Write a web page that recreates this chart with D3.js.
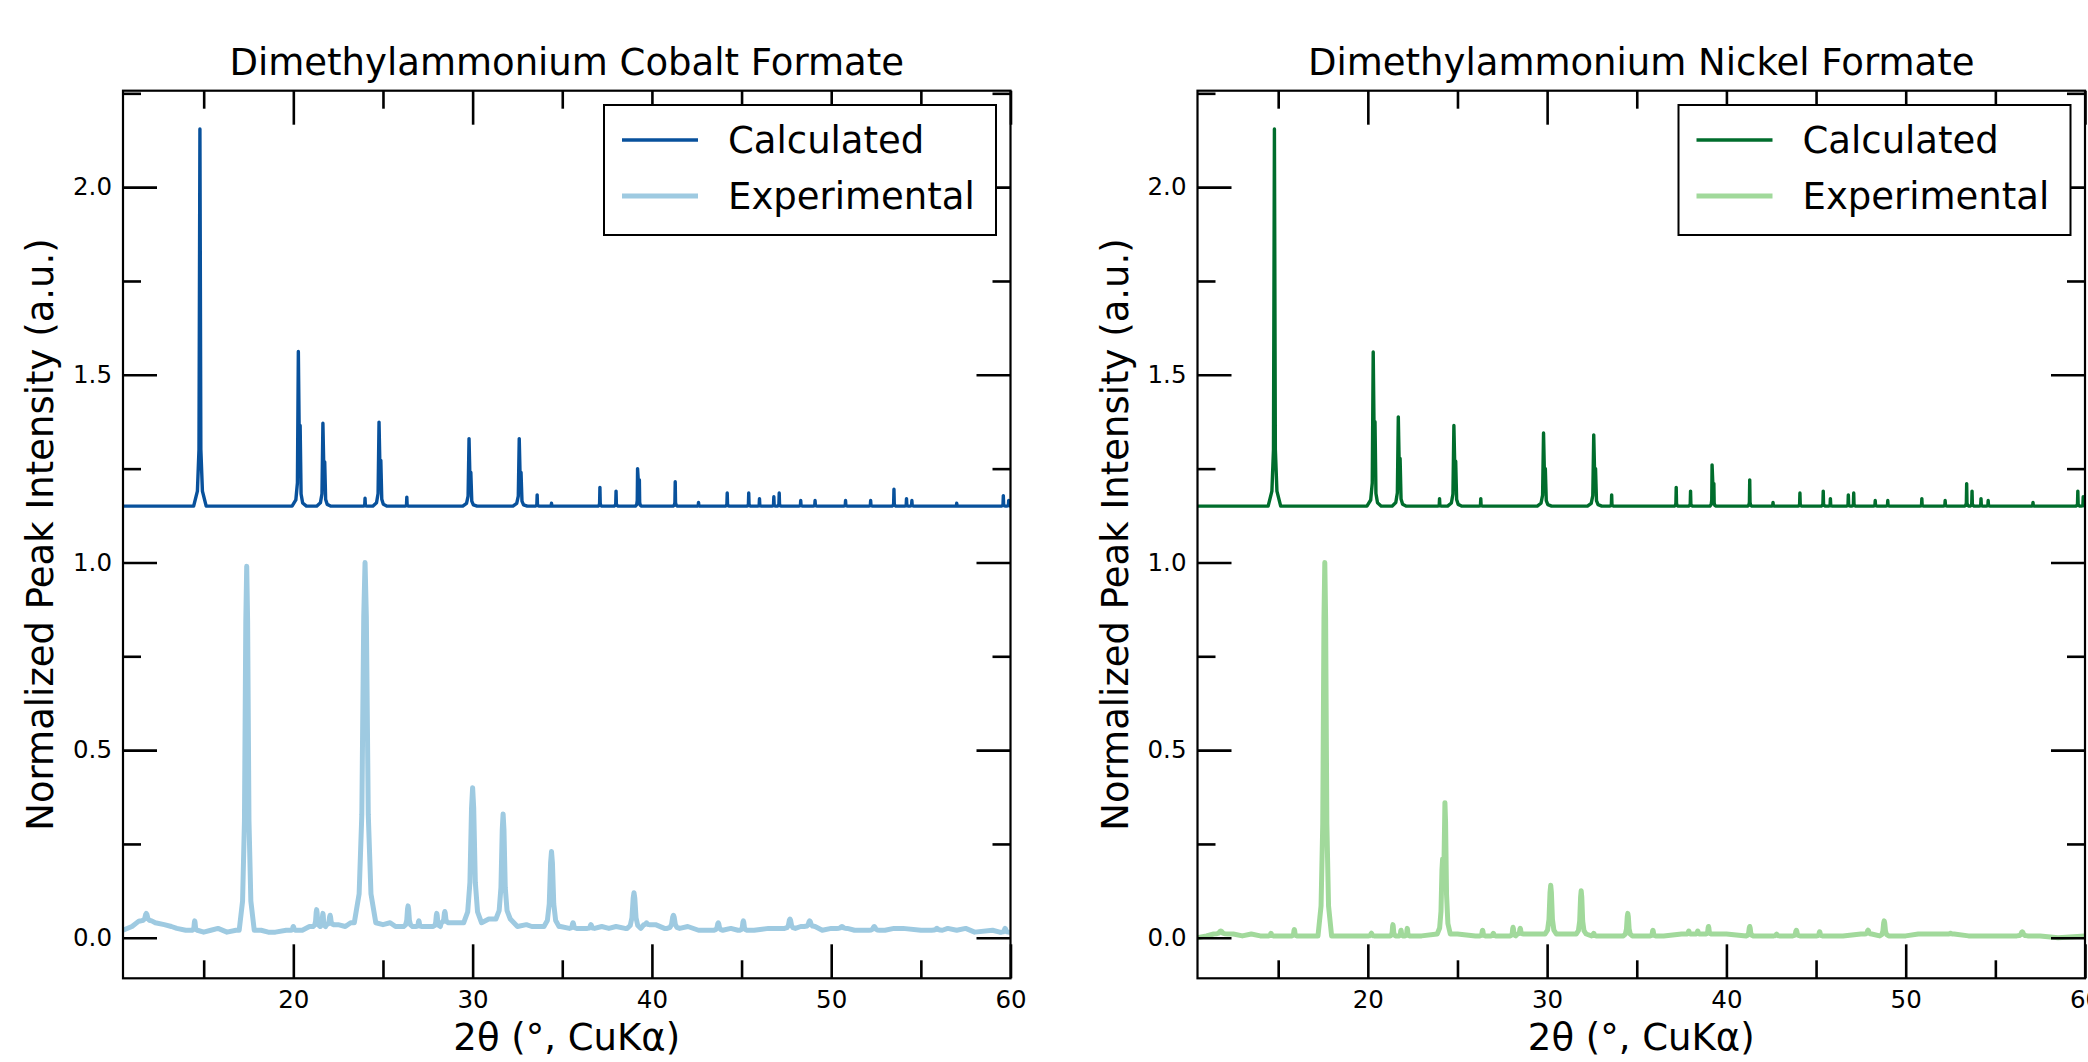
<!DOCTYPE html>
<html>
<head>
<meta charset="utf-8">
<script src="https://cdn.jsdelivr.net/npm/d3@7"></script>
<style>
    body { margin: 0; background: #ffffff; }
    text { font-family: "DejaVu Sans", sans-serif; fill: #000000; }
    .spine { fill: none; stroke: #000000; stroke-width: 2.2; }
    .axis path.domain { display: none; }
    .axis .tick line { stroke: #000000; stroke-width: 2.6; }
    .axis .tick text { font-size: 24.5px; }
    .trace { fill: none; stroke-linejoin: round; stroke-linecap: round; }
</style>
</head>
<body>
<svg id="chart" width="2088" height="1062"></svg>
<script>
// axis ranges and ticks
var thetaRange = [10.5, 60];
var intensityRange = [-0.108, 2.257];
var thetaMajor = [20, 30, 40, 50, 60];
var thetaMinor = [15, 25, 35, 45, 55];
var intensityMajor = [0, 0.5, 1.0, 1.5, 2.0];
var intensityMinor = [0.25, 0.75, 1.25, 1.75, 2.25];

var titles = ["Dimethylammonium Cobalt Formate", "Dimethylammonium Nickel Formate"];
var legendLabels = ["Calculated", "Experimental"];
var xLabel = "2θ (°, CuKα)";
var yLabel = "Normalized Peak Intensity (a.u.)";

// calculated patterns: [2θ, intensity] or [2θ, intensity, shoulder intensity]
var calcBase = [[10.5, 1.15], [60, 1.15]];

var coCalcPeaks = [
    [14.79, 2.155], [20.28, 1.562, 1.365], [21.65, 1.371, 1.268], [24.0, 1.171],
    [24.78, 1.374, 1.272], [26.33, 1.174], [29.8, 1.33, 1.24], [32.6, 1.33, 1.24],
    [33.6, 1.18], [34.4, 1.158], [37.1, 1.20], [38.0, 1.19], [39.2, 1.25, 1.22],
    [41.3, 1.215], [42.6, 1.16], [44.2, 1.185], [45.4, 1.185], [46.0, 1.17],
    [46.8, 1.175], [47.1, 1.185], [48.3, 1.165], [49.1, 1.165], [50.8, 1.165],
    [52.2, 1.165], [53.5, 1.195], [54.2, 1.17], [54.5, 1.165], [57.0, 1.158],
    [59.6, 1.178], [59.9, 1.165]
];

var niCalcPeaks = [
    [14.79, 2.155], [20.3, 1.561, 1.375], [21.7, 1.388, 1.277], [24.0, 1.17],
    [24.8, 1.365, 1.27], [26.3, 1.17], [29.8, 1.345, 1.25], [32.6, 1.34, 1.25],
    [33.6, 1.18], [37.2, 1.20], [38.0, 1.19], [39.2, 1.26, 1.21], [41.3, 1.22],
    [42.6, 1.16], [44.1, 1.185], [45.4, 1.19], [45.8, 1.17], [46.8, 1.18],
    [47.1, 1.185], [48.3, 1.165], [49.0, 1.165], [50.9, 1.17], [52.2, 1.165],
    [53.4, 1.21], [53.7, 1.19], [54.2, 1.17], [54.6, 1.165], [57.1, 1.16],
    [59.6, 1.19], [59.9, 1.175]
];

// experimental patterns: background points [2θ, intensity]
var coExpBase = [
    [10.5, 0.02], [11.0, 0.03], [11.4, 0.045], [12.3, 0.04], [12.8, 0.035], [13.2, 0.03],
    [13.5, 0.025], [14.0, 0.02], [15.0, 0.015], [15.4, 0.02], [15.8, 0.025], [16.3, 0.015],
    [16.8, 0.02], [18.2, 0.02], [18.6, 0.015], [19.0, 0.015], [19.6, 0.02], [20.5, 0.02],
    [20.9, 0.03], [22.5, 0.035], [22.9, 0.03], [23.2, 0.04], [25.0, 0.035], [25.4, 0.04],
    [25.7, 0.03], [27.5, 0.03], [29.2, 0.04], [30.9, 0.05], [32.5, 0.03], [33.0, 0.035],
    [33.3, 0.03], [34.9, 0.03], [36.0, 0.025], [37.2, 0.03], [37.6, 0.025], [38.0, 0.03],
    [38.5, 0.025], [40.2, 0.035], [40.7, 0.025], [42.0, 0.03], [42.6, 0.02], [43.2, 0.02],
    [44.4, 0.025], [44.8, 0.02], [45.7, 0.02], [46.5, 0.025], [47.2, 0.025], [48.3, 0.03],
    [49.5, 0.02], [50.0, 0.025], [51.3, 0.02], [52.0, 0.02], [53.0, 0.02], [53.5, 0.025],
    [54.0, 0.025], [55.0, 0.02], [55.5, 0.02], [56.5, 0.025], [57.0, 0.02], [57.5, 0.025],
    [58.0, 0.015], [59.0, 0.02], [59.4, 0.015], [60.0, 0.015]
];

// peaks: [2θ, intensity, half width] or with [shoulder intensity, shoulder offset]
var coExpPeaks = [
    [11.8, 0.065, 0.3], [14.5, 0.045, 0.15], [17.4, 0.99, 0.42], [20.0, 0.03, 0.15],
    [21.3, 0.075, 0.2], [21.65, 0.065, 0.15], [22.05, 0.06, 0.2], [24.0, 1.0, 0.6],
    [26.4, 0.085, 0.25], [27.0, 0.045, 0.15], [28.0, 0.065, 0.2], [28.45, 0.07, 0.2],
    [30.0, 0.40, 0.5], [31.7, 0.33, 0.4], [34.4, 0.23, 0.42], [35.6, 0.04, 0.2],
    [36.6, 0.035, 0.2], [39.0, 0.12, 0.38], [39.7, 0.04, 0.15], [41.2, 0.06, 0.35],
    [43.7, 0.04, 0.25], [45.1, 0.045, 0.2], [47.7, 0.05, 0.3], [48.8, 0.045, 0.3],
    [50.6, 0.03, 0.3], [52.4, 0.03, 0.3], [55.9, 0.025, 0.3], [59.7, 0.025, 0.2]
];

var niExpBase = [
    [10.5, 0.0], [11.0, 0.005], [12.5, 0.01], [13.0, 0.005], [13.5, 0.01], [14.0, 0.005],
    [15.0, 0.005], [16.5, 0.005], [17.0, 0.005], [18.5, 0.005], [19.5, 0.005], [20.8, 0.005],
    [23.0, 0.005], [25.0, 0.01], [26.0, 0.005], [27.5, 0.005], [29.0, 0.01], [31.0, 0.01],
    [33.0, 0.005], [35.0, 0.005], [36.5, 0.005], [37.5, 0.01], [40.0, 0.01], [42.3, 0.005],
    [44.6, 0.005], [46.5, 0.005], [47.5, 0.01], [50.0, 0.005], [51.5, 0.01], [53.5, 0.005],
    [55.0, 0.005], [57.5, 0.005], [58.5, 0.0], [60.0, 0.005]
];

var niExpPeaks = [
    [11.8, 0.018, 0.4], [14.6, 0.012, 0.12], [15.9, 0.022, 0.15], [17.6, 1.0, 0.38],
    [20.2, 0.012, 0.15], [21.4, 0.035, 0.15], [21.85, 0.02, 0.12], [22.2, 0.025, 0.12],
    [24.3, 0.36, 0.3, 0.21, -0.13], [26.4, 0.02, 0.15], [27.0, 0.012, 0.12],
    [28.1, 0.028, 0.15], [28.5, 0.025, 0.15], [30.2, 0.14, 0.32], [31.9, 0.125, 0.28],
    [32.6, 0.012, 0.12], [34.5, 0.065, 0.25], [35.9, 0.02, 0.15], [37.9, 0.018, 0.12],
    [38.4, 0.018, 0.12], [39.0, 0.03, 0.15], [41.3, 0.03, 0.2], [42.8, 0.01, 0.15],
    [43.9, 0.02, 0.2], [45.2, 0.016, 0.15], [47.9, 0.02, 0.2], [48.8, 0.045, 0.25],
    [50.9, 0.01, 0.2], [52.5, 0.012, 0.2], [56.5, 0.016, 0.3]
];

var coColors = ["#08519c", "#9ecae1"];
var niColors = ["#006d2c", "#a1d99b"];

// half profiles of a peak, mirrored for the right side
var calcShape = [[-1, 0], [-0.4, 0.04], [-0.15, 0.15], [0, 1]];
var expShape = [[-1, 0], [-0.55, 0.08], [-0.3, 0.3], [-0.12, 0.85], [0, 1]];

/**
 * Turns a list of peaks plus background points into the vertices of one trace
 */
function buildTrace(base, peaks, shape)
{
    var pts = [];

    var foot = function(pos)
    {
        return d3.least(base, function(b) { return Math.abs(b[0] - pos); })[1];
    };

    var ranges = peaks.map(function(p)
    {
        var lo = p.pos - p.hw, hi = p.pos + p.hw;
        if (p.sdx < 0) lo += p.sdx;
        if (p.sdx > 0) hi += p.sdx;
        return [lo, hi];
    });

    base.forEach(function(b)
    {
        var inside = ranges.some(function(r) { return b[0] > r[0] && b[0] < r[1]; });
        if (!inside) pts.push(b);
    });

    peaks.forEach(function(p)
    {
        var b0 = foot(p.pos);
        var side = function(centre, top, sign)
        {
            return shape.filter(function(s) { return s[0] < 0; })
                .map(function(s) { return [centre + sign * s[0] * p.hw, b0 + s[1] * (top - b0)]; });
        };

        var left, right, middle;
        if (p.sdx > 0)
        {
            left = side(p.pos, p.h, 1);
            middle = [[p.pos, p.h], [p.pos + p.sdx * 0.5, b0 + 0.85 * (p.sh - b0)], [p.pos + p.sdx, p.sh]];
            right = side(p.pos + p.sdx, p.sh, -1).reverse();
        }
        else if (p.sdx < 0)
        {
            left = side(p.pos + p.sdx, p.sh, 1);
            middle = [[p.pos + p.sdx, p.sh], [p.pos + p.sdx * 0.5, b0 + 0.75 * (p.sh - b0)], [p.pos, p.h]];
            right = side(p.pos, p.h, -1).reverse();
        }
        else
        {
            left = side(p.pos, p.h, 1);
            middle = [[p.pos, p.h]];
            right = side(p.pos, p.h, -1).reverse();
        }
        pts = pts.concat(left, middle, right);
    });

    pts.sort(function(a, b) { return a[0] - b[0]; });
    return pts;
}

function calcPeak(row)
{
    var big = row[1] - calcBase[0][1] > 0.15;
    return {pos: row[0], h: row[1], hw: big ? 0.35 : 0.12,
            sh: row.length > 2 ? row[2] : null, sdx: row.length > 2 ? 0.1 : 0};
}

function expPeak(row)
{
    return {pos: row[0], h: row[1], hw: row[2],
            sh: row.length > 3 ? row[3] : null, sdx: row.length > 4 ? row[4] : 0};
}

/** Class drawing one XRD panel. */
class PatternPanel
{
    constructor(svg, left, index)
    {
        this.top = 90.7;
        this.width = 887.5;
        this.height = 887.6;
        this.index = index;
        this.g = svg.append("g")
            .attr("transform", "translate(" + left + "," + this.top + ")");
        this.x = d3.scaleLinear().domain(thetaRange).range([0, this.width]);
        this.y = d3.scaleLinear().domain(intensityRange).range([this.height, 0]);
    }

    drawTraces(calc, exp, colors)
    {
        var self = this;
        var clipId = "clip" + this.index;

        this.g.append("clipPath")
            .attr("id", clipId)
            .append("rect")
            .attr("width", this.width)
            .attr("height", this.height);

        var line = d3.line()
            .x(function(d) { return self.x(d[0]); })
            .y(function(d) { return self.y(d[1]); });

        var traces = this.g.append("g").attr("clip-path", "url(#" + clipId + ")");

        traces.append("path")
            .datum(exp)
            .attr("class", "trace")
            .attr("stroke", colors[1])
            .attr("stroke-width", 5)
            .attr("d", line);

        traces.append("path")
            .datum(calc)
            .attr("class", "trace")
            .attr("stroke", colors[0])
            .attr("stroke-width", 3.4)
            .attr("d", line);
    }

    drawAxes()
    {
        var g = this.g;
        var w = this.width, h = this.height;

        g.append("g").attr("class", "axis")
            .attr("transform", "translate(0," + h + ")")
            .call(d3.axisBottom(this.x).tickValues(thetaMajor).tickSize(-34).tickPadding(12.7)
                .tickFormat(d3.format("d")));
        g.append("g").attr("class", "axis")
            .attr("transform", "translate(0," + h + ")")
            .call(d3.axisBottom(this.x).tickValues(thetaMinor).tickSize(-18).tickFormat(""));
        g.append("g").attr("class", "axis")
            .call(d3.axisTop(this.x).tickValues(thetaMajor).tickSize(-34).tickFormat(""));
        g.append("g").attr("class", "axis")
            .call(d3.axisTop(this.x).tickValues(thetaMinor).tickSize(-18).tickFormat(""));

        g.append("g").attr("class", "axis")
            .call(d3.axisLeft(this.y).tickValues(intensityMajor).tickSize(-34).tickPadding(11)
                .tickFormat(d3.format(".1f")));
        g.append("g").attr("class", "axis")
            .call(d3.axisLeft(this.y).tickValues(intensityMinor).tickSize(-18).tickFormat(""));
        g.append("g").attr("class", "axis")
            .attr("transform", "translate(" + w + ",0)")
            .call(d3.axisRight(this.y).tickValues(intensityMajor).tickSize(-34).tickFormat(""));
        g.append("g").attr("class", "axis")
            .attr("transform", "translate(" + w + ",0)")
            .call(d3.axisRight(this.y).tickValues(intensityMinor).tickSize(-18).tickFormat(""));

        g.append("rect")
            .attr("class", "spine")
            .attr("width", w)
            .attr("height", h);

        g.append("text")
            .attr("x", w / 2)
            .attr("y", 75 - this.top)
            .attr("text-anchor", "middle")
            .style("font-size", "37px")
            .text(titles[this.index]);

        g.append("text")
            .attr("x", w / 2)
            .attr("y", 1050 - this.top)
            .attr("text-anchor", "middle")
            .style("font-size", "37px")
            .text(xLabel);

        g.append("text")
            .attr("transform", "translate(-70," + (h / 2) + ") rotate(-90)")
            .attr("text-anchor", "middle")
            .style("font-size", "37px")
            .text(yLabel);
    }

    drawLegend(colors)
    {
        var legend = this.g.append("g")
            .attr("transform", "translate(481,14.3)");

        legend.append("rect")
            .attr("width", 392)
            .attr("height", 130)
            .attr("fill", "#ffffff")
            .attr("stroke", "#000000")
            .attr("stroke-width", 2);

        var rows = legend.selectAll(".entry")
            .data(legendLabels)
            .enter()
            .append("g")
            .attr("class", "entry")
            .attr("transform", function(d, i) { return "translate(0," + (35 + i * 56) + ")"; });

        rows.append("line")
            .attr("x1", 18)
            .attr("x2", 94)
            .attr("stroke", function(d, i) { return colors[i]; })
            .attr("stroke-width", function(d, i) { return i === 0 ? 3.6 : 5; });

        rows.append("text")
            .attr("x", 124)
            .attr("dy", "0.36em")
            .style("font-size", "37px")
            .text(function(d) { return d; });
    }
}

var svg = d3.select("#chart");

var coPanel = new PatternPanel(svg, 123, 0);
coPanel.drawTraces(buildTrace(calcBase, coCalcPeaks.map(calcPeak), calcShape),
                   buildTrace(coExpBase, coExpPeaks.map(expPeak), expShape), coColors);
coPanel.drawAxes();
coPanel.drawLegend(coColors);

var niPanel = new PatternPanel(svg, 1197.5, 1);
niPanel.drawTraces(buildTrace(calcBase, niCalcPeaks.map(calcPeak), calcShape),
                   buildTrace(niExpBase, niExpPeaks.map(expPeak), expShape), niColors);
niPanel.drawAxes();
niPanel.drawLegend(niColors);
</script>
</body>
</html>
